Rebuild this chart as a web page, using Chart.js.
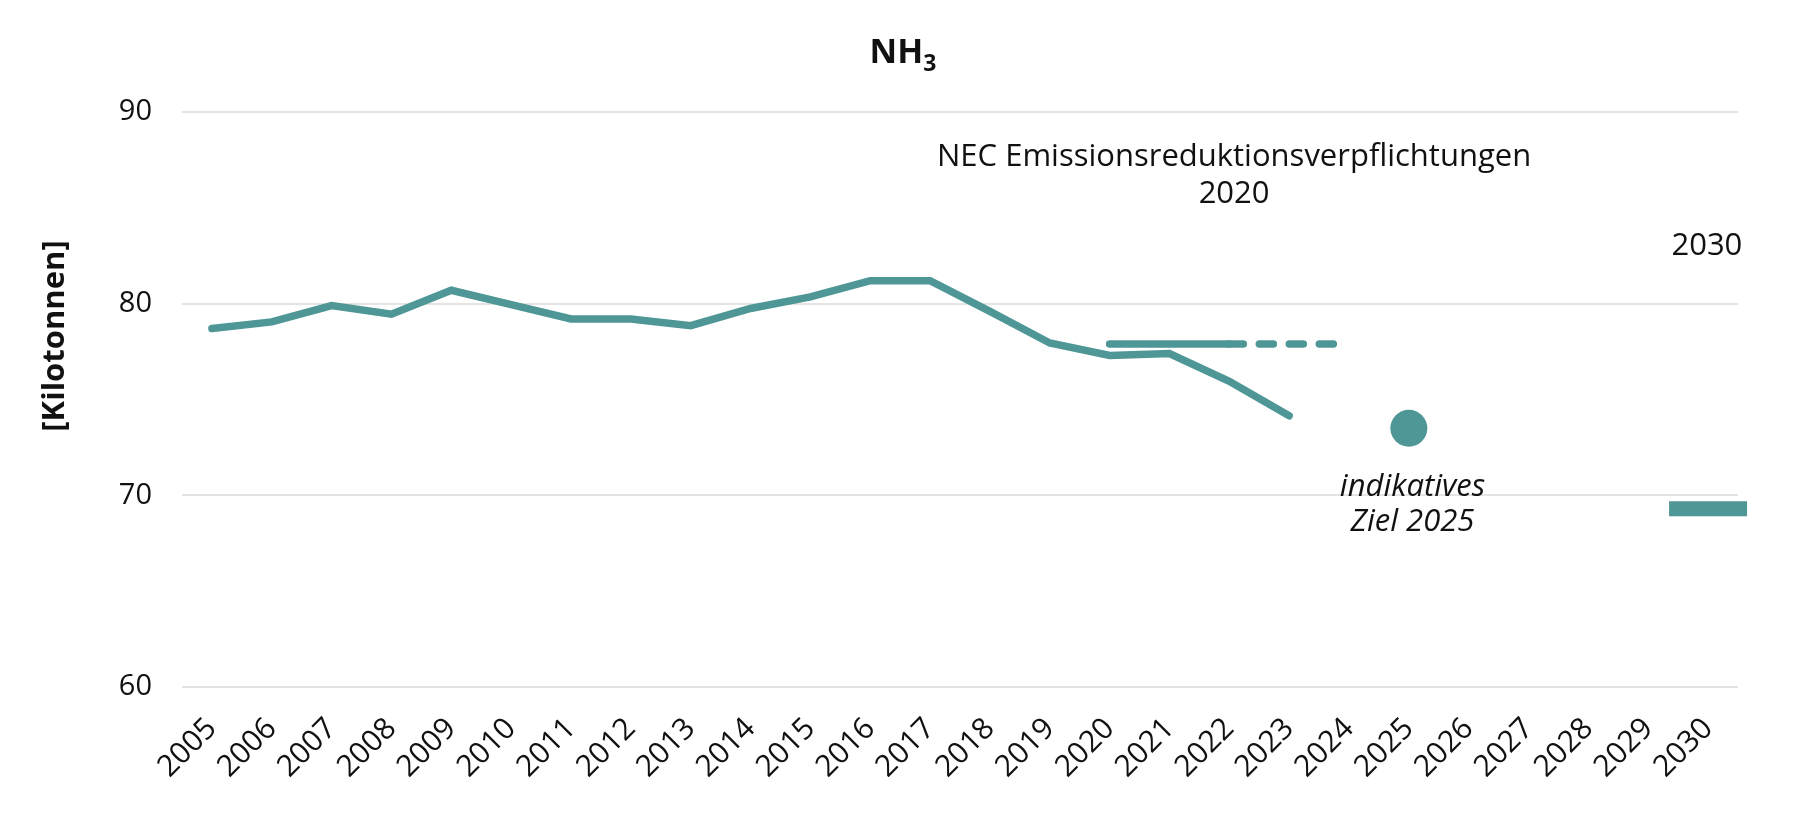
<!DOCTYPE html>
<html>
<head>
<meta charset="utf-8">
<script src="https://cdn.jsdelivr.net/npm/chart.js@4/dist/chart.umd.min.js"></script>
<style>
  html, body { margin: 0; padding: 0; background: #fff; }
  canvas { display: block; }
</style>
</head>
<body>
<canvas id="chart" width="1800" height="815"></canvas>
<script>
// Jahre auf der x-Achse
const years = ['2005','2006','2007','2008','2009','2010','2011','2012','2013','2014','2015','2016','2017',
  '2018','2019','2020','2021','2022','2023','2024','2025','2026','2027','2028','2029','2030'];

// NH3-Emissionen [kt]
const emissions = [78.7, 79.05, 79.9, 79.45, 80.7, 79.95, 79.2, 79.2, 78.85, 79.75, 80.35, 81.2, 81.2,
  79.6, 77.95, 77.3, 77.4, 75.95, 74.15, null, null, null, null, null, null, null];

// NEC Reduktionsverpflichtung 2020 (2020-2024)
const nec2020 = [null, null, null, null, null, null, null, null, null, null, null, null, null,
  null, null, 77.9, 77.9, 77.9, 77.9, 77.9, null, null, null, null, null, null];

// indikatives Ziel 2025
const goal2025 = [null, null, null, null, null, null, null, null, null, null, null, null, null,
  null, null, null, null, null, null, null, 73.5, null, null, null, null, null];

// NEC Reduktionsverpflichtung 2030
const nec2030 = [null, null, null, null, null, null, null, null, null, null, null, null, null,
  null, null, null, null, null, null, null, null, null, null, null, null, 69.3];

const yTicks = [60, 70, 80, 90];

const teal = '#4f9697';
const font = '"Open Sans", sans-serif';

// Beschriftungen direkt in die Grafik zeichnen
const labelsPlugin = {
  id: 'labels',
  afterDraw(chart) {
    const ctx = chart.ctx;
    const x = chart.scales.x;
    const y = chart.scales.y;
    ctx.save();
    ctx.fillStyle = '#111';
    ctx.textBaseline = 'middle';

    // Titel NH3
    ctx.font = 'bold 34px ' + font;
    const nh = ctx.measureText('NH').width;
    ctx.font = 'bold 23px ' + font;
    const sub = ctx.measureText('3').width;
    const tx = 903 - (nh + sub) / 2;
    ctx.textAlign = 'left';
    ctx.font = 'bold 34px ' + font;
    ctx.fillText('NH', tx, 53);
    ctx.font = 'bold 23px ' + font;
    ctx.fillText('3', tx + nh, 64);

    // y-Achsentitel
    ctx.save();
    ctx.translate(55, 336);
    ctx.rotate(-Math.PI / 2);
    ctx.textAlign = 'center';
    ctx.font = 'bold 31px ' + font;
    ctx.fillText('[Kilotonnen]', 0, 0);
    ctx.restore();

    ctx.textAlign = 'center';
    ctx.font = '31px ' + font;
    ctx.fillText('NEC Emissionsreduktionsverpflichtungen', x.getPixelForValue(17.08), y.getPixelForValue(87.65));
    ctx.fillText('2020', x.getPixelForValue(17.08), y.getPixelForValue(85.7));
    ctx.fillText('2030', x.getPixelForValue(24.98), y.getPixelForValue(83.0));

    ctx.font = 'italic 31px ' + font;
    ctx.fillText('indikatives', x.getPixelForValue(20.06), y.getPixelForValue(70.45));
    ctx.fillText('Ziel 2025', x.getPixelForValue(20.06), y.getPixelForValue(68.6));
    ctx.restore();
  }
};

new Chart(document.getElementById('chart').getContext('2d'), {
  type: 'line',
  data: {
    labels: years,
    datasets: [
      {
        label: 'NH3',
        data: emissions,
        borderColor: teal,
        borderWidth: 7.5,
        borderCapStyle: 'round',
        pointRadius: 0,
        tension: 0
      },
      {
        label: 'NEC 2020',
        data: nec2020,
        borderColor: teal,
        borderWidth: 7.5,
        borderCapStyle: 'round',
        pointRadius: 0,
        segment: {
          borderDash: c => c.p0DataIndex >= 17 ? [14, 16] : undefined
        }
      },
      {
        label: 'Ziel 2025',
        data: goal2025,
        showLine: false,
        pointRadius: 18.5,
        pointBackgroundColor: teal,
        pointBorderWidth: 0
      },
      {
        label: 'NEC 2030',
        data: nec2030,
        showLine: false,
        pointStyle: 'line',
        pointRadius: 39,
        pointBorderColor: teal,
        pointBorderWidth: 15
      }
    ]
  },
  options: {
    responsive: false,
    devicePixelRatio: 1,
    animation: false,
    layout: { padding: { top: 112, right: 62, left: 0, bottom: 0 } },
    plugins: {
      legend: { display: false },
      tooltip: { enabled: false }
    },
    scales: {
      x: {
        offset: true,
        grid: { display: false },
        border: { display: false },
        afterFit: s => { s.height = 128; },
        ticks: {
          color: '#111',
          font: { family: font, size: 30 },
          minRotation: 45,
          maxRotation: 45,
          padding: 16,
          autoSkip: false
        }
      },
      y: {
        min: 60,
        max: 90,
        afterFit: s => { s.width = 182; },
        afterBuildTicks: s => { s.ticks = yTicks.map(v => ({ value: v })); },
        grid: { color: '#e4e4e4', lineWidth: 2, drawTicks: false },
        border: { display: false },
        ticks: {
          color: '#111',
          font: { family: font, size: 29 },
          padding: 30
        }
      }
    }
  },
  plugins: [labelsPlugin]
});
</script>
</body>
</html>
